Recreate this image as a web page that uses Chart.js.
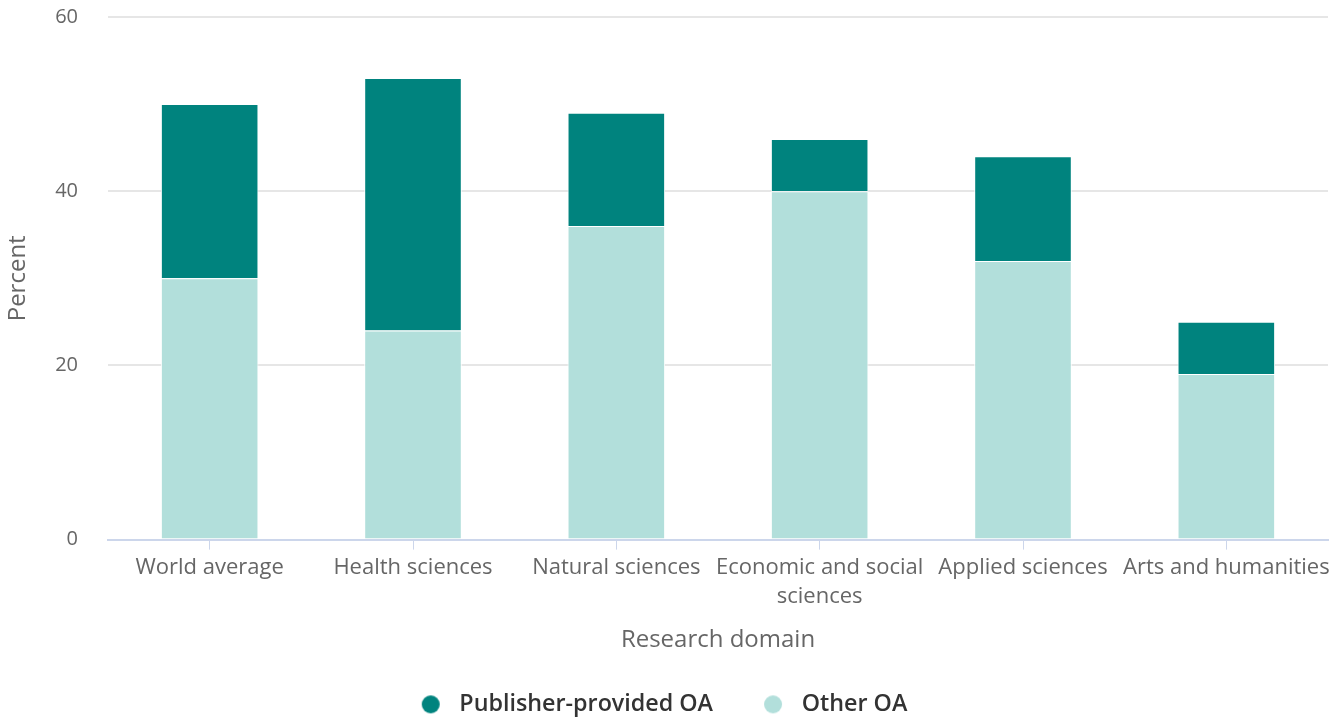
<!DOCTYPE html>
<html>
<head>
<meta charset="utf-8">
<script src="https://cdn.jsdelivr.net/npm/chart.js@4"></script>
<style>
  html, body { margin: 0; padding: 0; background: #fff; }
  #wrap { width: 1344px; height: 719px; }
</style>
</head>
<body>
<div id="wrap"><canvas id="oa"></canvas></div>
<script>
const domains = ['World average', 'Health sciences', 'Natural sciences',
  ['Economic and social', 'sciences'], 'Applied sciences', 'Arts and humanities'];
const otherOA = [30, 24, 36, 40, 32, 19];
const publisherOA = [20, 29, 13, 6, 12, 6];
const yTicks = [0, 20, 40, 60];

const lightTeal = '#b2dfdb';
const darkTeal = '#00837e';

Chart.defaults.font.family = '"Open Sans", sans-serif';

// legend dot, drawn into a small canvas so the gap to the text can be set
function legendDot(color) {
  const c = document.createElement('canvas');
  c.width = 27;
  c.height = 20;
  const g = c.getContext('2d');
  g.fillStyle = color;
  g.beginPath();
  g.arc(10, 10, 9, 0, Math.PI * 2);
  g.fill();
  return c;
}
const dots = [legendDot(lightTeal), legendDot(darkTeal)];

const ctx = document.getElementById('oa').getContext('2d');

window.oaChart = new Chart(ctx, {
  type: 'bar',
  data: {
    labels: domains,
    datasets: [
      {
        label: 'Other OA',
        data: otherOA,
        backgroundColor: lightTeal,
        borderColor: '#ffffff',
        borderWidth: 1
      },
      {
        label: 'Publisher-provided OA',
        data: publisherOA,
        backgroundColor: darkTeal,
        borderColor: '#ffffff',
        borderWidth: 1
      }
    ]
  },
  options: {
    responsive: true,
    maintainAspectRatio: false,
    animation: false,
    categoryPercentage: 1,
    barPercentage: 0.48,
    layout: {
      padding: { top: 17, right: 16, left: 0, bottom: -7 }
    },
    plugins: {
      legend: {
        position: 'bottom',
        reverse: true,
        labels: {
          usePointStyle: true,
          pointStyleWidth: 27,
          padding: 50,
          color: '#333333',
          font: { size: 23.3, weight: '600' },
          generateLabels: (chart) => {
            const items = Chart.defaults.plugins.legend.labels.generateLabels(chart);
            items.forEach(it => { it.pointStyle = dots[it.datasetIndex]; });
            return items;
          }
        }
      },
      tooltip: {
        mode: 'index',
        intersect: false
      }
    },
    scales: {
      x: {
        stacked: true,
        afterFit: (scale) => {
          scale.paddingLeft = 0;
          scale.paddingRight = 0;
        },
        grid: {
          offset: false,
          drawOnChartArea: false,
          drawTicks: true,
          tickLength: 10,
          color: '#ccd6eb'
        },
        border: { color: '#ccd6eb', width: 2 },
        ticks: {
          color: '#666666',
          font: { size: 22, lineHeight: 1.32 },
          maxRotation: 0,
          autoSkip: false,
          padding: 4
        },
        title: {
          display: true,
          text: 'Research domain',
          color: '#666666',
          font: { size: 24, lineHeight: 1 },
          padding: { top: 12, bottom: -9 }
        }
      },
      y: {
        stacked: true,
        min: 0,
        max: 60,
        afterBuildTicks: (axis) => {
          axis.ticks = yTicks.map(v => ({ value: v }));
        },
        afterFit: (scale) => {
          scale.width = 108;
          scale.paddingTop = 0;
          scale.paddingBottom = 0;
        },
        grid: {
          color: '#e6e6e6',
          lineWidth: 2,
          drawTicks: false
        },
        border: { display: false },
        ticks: {
          color: '#666666',
          font: { size: 20 },
          padding: 30
        },
        title: {
          display: true,
          text: 'Percent',
          color: '#666666',
          font: { size: 24 },
          padding: { top: 4, bottom: 0 }
        }
      }
    }
  }
});
</script>
</body>
</html>
